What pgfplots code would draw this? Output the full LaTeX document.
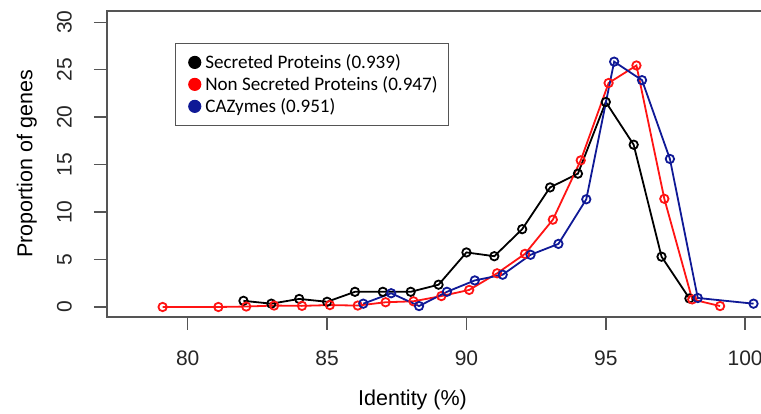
\documentclass[border=0pt]{standalone}
\usepackage{fontspec}
\setmainfont{Liberation Sans}
\newfontfamily\legfont{Carlito}
\usepackage{pgfplots}
\pgfplotsset{compat=1.18}
\definecolor{rred}{RGB}{255,20,20}
\definecolor{rblue}{RGB}{15,25,150}
\definecolor{boxgray}{RGB}{85,85,85}

% Secreted proteins
\pgfplotstableread{
x y
82 0.65
83 0.35
84 0.85
85 0.55
86 1.6
87 1.6
88 1.6
89 2.35
90 5.75
91 5.35
92 8.2
93 12.6
94 14.05
95 21.6
96 17.1
97 5.3
98 0.9
}\secreted
% Non secreted proteins
\pgfplotstableread{
x y
79.1 0.0
81.1 0.0
82.1 0.05
83.1 0.15
84.1 0.12
85.1 0.2
86.1 0.15
87.1 0.5
88.1 0.6
89.1 1.15
90.1 1.8
91.1 3.55
92.1 5.6
93.1 9.2
94.1 15.45
95.1 23.6
96.1 25.45
97.1 11.4
98.1 0.8
99.1 0.1
}\nonsecreted
% CAZymes
\pgfplotstableread{
x y
86.3 0.35
87.3 1.45
88.3 0.1
89.3 1.6
90.3 2.8
91.3 3.4
92.3 5.5
93.3 6.65
94.3 11.35
95.3 25.85
96.3 23.9
97.3 15.6
98.3 0.95
100.3 0.35
}\cazymes

\begin{document}
\begin{tikzpicture}
\begin{axis}[
  name=ax,
  scale only axis,
  width=673pt, height=306pt,
  xmin=77.104, xmax=101.25,
  ymin=-1.054, ymax=31.19,
  xtick={80,85,...,100}, ytick={0,5,...,30},
  xtick pos=left, ytick pos=left,
  tick align=outside,
  major tick length=13pt,
  axis line style={boxgray, line width=1.6pt},
  every tick/.style={boxgray, line width=1.4pt},
  /pgf/number format/assume math mode=true,
  tick label style={font=\fontsize{21}{25}\selectfont, text=black!85, inner sep=0pt},
  x tick label style={anchor=north},
  xticklabel shift=21pt,
  yticklabel={\rotatebox{90}{\pgfmathprintnumber{\tick}}\hspace*{22pt}},
  y tick label style={anchor=east},
  label style={font=\fontsize{21.5}{25}\selectfont},
  xlabel={Identity (\%)},
  xlabel style={at={(axis description cs:0.454,-0.271)}, anchor=center},
  ylabel={Proportion of genes},
  ylabel style={at={(axis description cs:-0.119,0.5)}, anchor=center, rotate=0},
  legend style={at={(axis description cs:0.101,0.895)}, anchor=north west,
    draw=boxgray, line width=1.1pt, font=\legfont\fontsize{19.1}{22}\selectfont,
    inner xsep=11pt, inner ysep=11pt, row sep=6.5pt,
    nodes={inner sep=0pt},
    /tikz/every odd column/.append style={column sep=4pt}},
  legend cell align=left,
  legend image code/.code={\path (-1.7pt,0pt); \fill[#1] (6pt,0pt) circle (6pt);},
]
\addlegendimage{black}
\addlegendimage{red}
\addlegendimage{rblue}
\legend{Secreted Proteins (0.939), Non Secreted Proteins (0.947), CAZymes (0.951)}
\addplot[black, line width=1.8pt, mark=o, mark size=4.2pt] table {\secreted};
\addplot[rred, line width=1.8pt, mark=o, mark size=4.2pt] table {\nonsecreted};
\addplot[rblue, line width=1.8pt, mark=o, mark size=4.2pt] table {\cazymes};
\end{axis}
\pgfresetboundingbox
\path[use as bounding box] ([shift={(-107pt,-97pt)}]ax.south west) rectangle ([shift={(654pt,317pt)}]ax.south west);
\end{tikzpicture}
\end{document}
